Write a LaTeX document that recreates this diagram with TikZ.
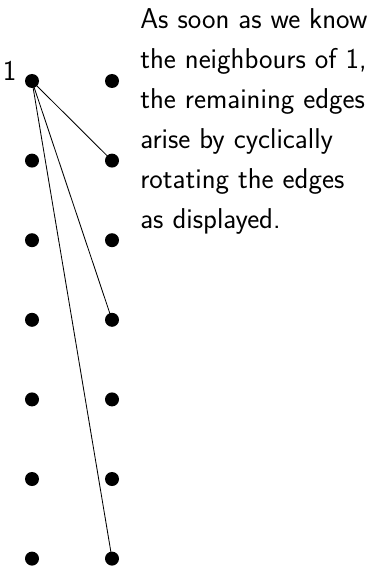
\documentclass[tikz,border=0pt]{standalone}
\usetikzlibrary{positioning}

\begin{document}
\begin{tikzpicture}[
  vertex/.style={circle, fill=black, inner sep=0pt, minimum size=0.35cm},
  edge/.style={line width=0.6pt, draw=black},
  bigfont/.style={font=\sffamily\fontsize{20.4}{28.45}\selectfont},
  note/.style={bigfont, anchor=north west, align=left, inner sep=0pt},
]
\useasboundingbox (0,0) rectangle (9.675,-14.15);

% left column
\node[vertex, label={[bigfont, anchor=base east, inner sep=0pt, xshift=-0.2cm]left:1}] (l1) at (0.8,-2.025) {};
\node[vertex] (l2) at (0.8,-4.015) {};
\node[vertex] (l3) at (0.8,-6.005) {};
\node[vertex] (l4) at (0.8,-7.995) {};
\node[vertex] (l5) at (0.8,-9.985) {};
\node[vertex] (l6) at (0.8,-11.975) {};
\node[vertex] (l7) at (0.8,-13.965) {};

% right column
\node[vertex] (r1) at (2.8,-2.025) {};
\node[vertex] (r2) at (2.8,-4.015) {};
\node[vertex] (r3) at (2.8,-6.005) {};
\node[vertex] (r4) at (2.8,-7.995) {};
\node[vertex] (r5) at (2.8,-9.985) {};
\node[vertex] (r6) at (2.8,-11.975) {};
\node[vertex] (r7) at (2.8,-13.965) {};

\node[note] (caption) at (3.5,-0.22) {As soon as we know\\the neighbours of 1,\\the remaining edges\\arise by cyclically\\rotating the edges\\as displayed.};

\draw[edge] (l1.center) -- (r2.center);
\draw[edge] (l1.center) -- (r4.center);
\draw[edge] (l1.center) -- (r7.center);
\end{tikzpicture}
\end{document}
